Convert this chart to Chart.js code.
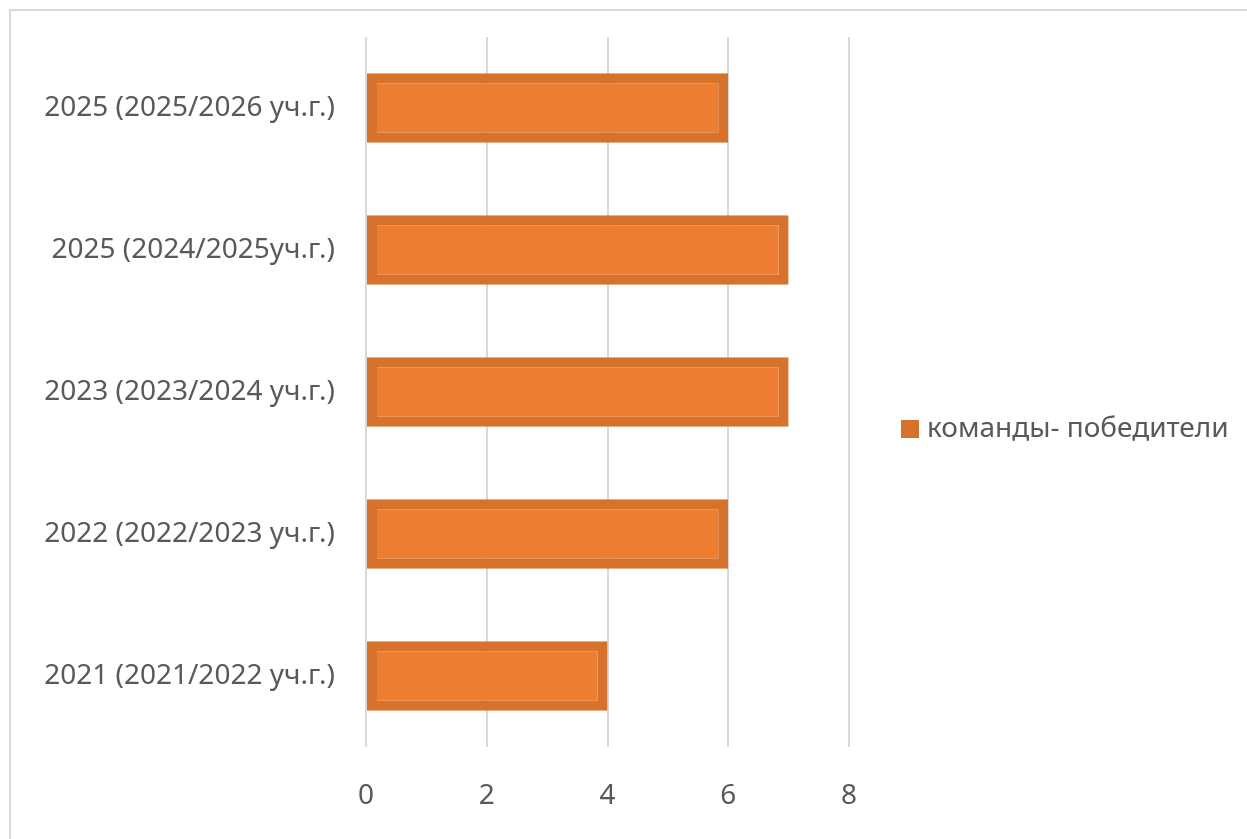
<!DOCTYPE html>
<html>
<head>
<meta charset="utf-8">
<script src="https://cdn.jsdelivr.net/npm/chart.js@4"></script>
<style>
  html, body { margin: 0; padding: 0; background: #fff; }
  #wrap { position: relative; width: 1247px; height: 839px; overflow: hidden; }
  #frame { position: absolute; left: 9px; top: 9px; width: 1250px; height: 850px; border: 2px solid #D9D9D9; box-sizing: border-box; }
  #legend { position: absolute; left: 901px; top: 407px; font-family: "Noto Sans", sans-serif; font-size: 28px; line-height: 38px; color: #595959; white-space: nowrap; }
  #legend .box { display: inline-block; width: 18px; height: 18px; background: #D7722C; margin-right: 8px; vertical-align: -1px; }
  canvas { position: absolute; left: 0; top: 0; }
</style>
</head>
<body>
<div id="wrap">
  <div id="frame"></div>
  <canvas id="chart" width="1247" height="839"></canvas>
  <div id="legend"><span class="box"></span><span id="legendText"></span></div>
</div>
<script>
// categories top to bottom, as in the picture
const categories = [
    '2025 (2025/2026 уч.г.)',
    ' 2025 (2024/2025уч.г.)',
    '2023 (2023/2024 уч.г.)',
    '2022 (2022/2023 уч.г.)',
    '2021 (2021/2022 уч.г.)'
];
const seriesName = 'команды- победители';
const winners = [6, 7, 7, 6, 4];
const xTicks = [0, 2, 4, 6, 8];

document.getElementById('legendText').textContent = seriesName;

const labelFont = { family: '"Noto Sans", sans-serif', size: 28 };

new Chart(document.getElementById('chart'), {
    type: 'bar',
    data: {
        labels: categories,
        datasets: [{
            label: seriesName,
            data: winners,
            backgroundColor: '#ED7D31',
            borderColor: '#D7722C',
            borderWidth: 10,
            borderSkipped: false,
            barPercentage: 0.49,
            categoryPercentage: 1
        }]
    },
    options: {
        indexAxis: 'y',
        responsive: false,
        animation: false,
        layout: { padding: { left: 0, right: 398, top: 37, bottom: 0 } },
        plugins: {
            legend: { display: false },
            tooltip: { enabled: false }
        },
        scales: {
            x: {
                min: 0,
                max: 8,
                afterBuildTicks: (scale) => { scale.ticks = xTicks.map(v => ({ value: v })); },
                afterFit: (scale) => { scale.height = 92; },
                grid: { color: '#D9D9D9', lineWidth: 2, drawTicks: false },
                border: { display: false },
                ticks: { font: labelFont, color: '#595959', padding: 32 }
            },
            y: {
                afterFit: (scale) => {
                    // the category labels should not push the plot down
                    scale.width = 366;
                    scale.paddingTop = 0;
                    scale.paddingBottom = 0;
                },
                grid: { display: false, drawTicks: false },
                border: { display: false },
                ticks: { font: labelFont, color: '#595959', padding: 31 }
            }
        }
    }
});
</script>
</body>
</html>
